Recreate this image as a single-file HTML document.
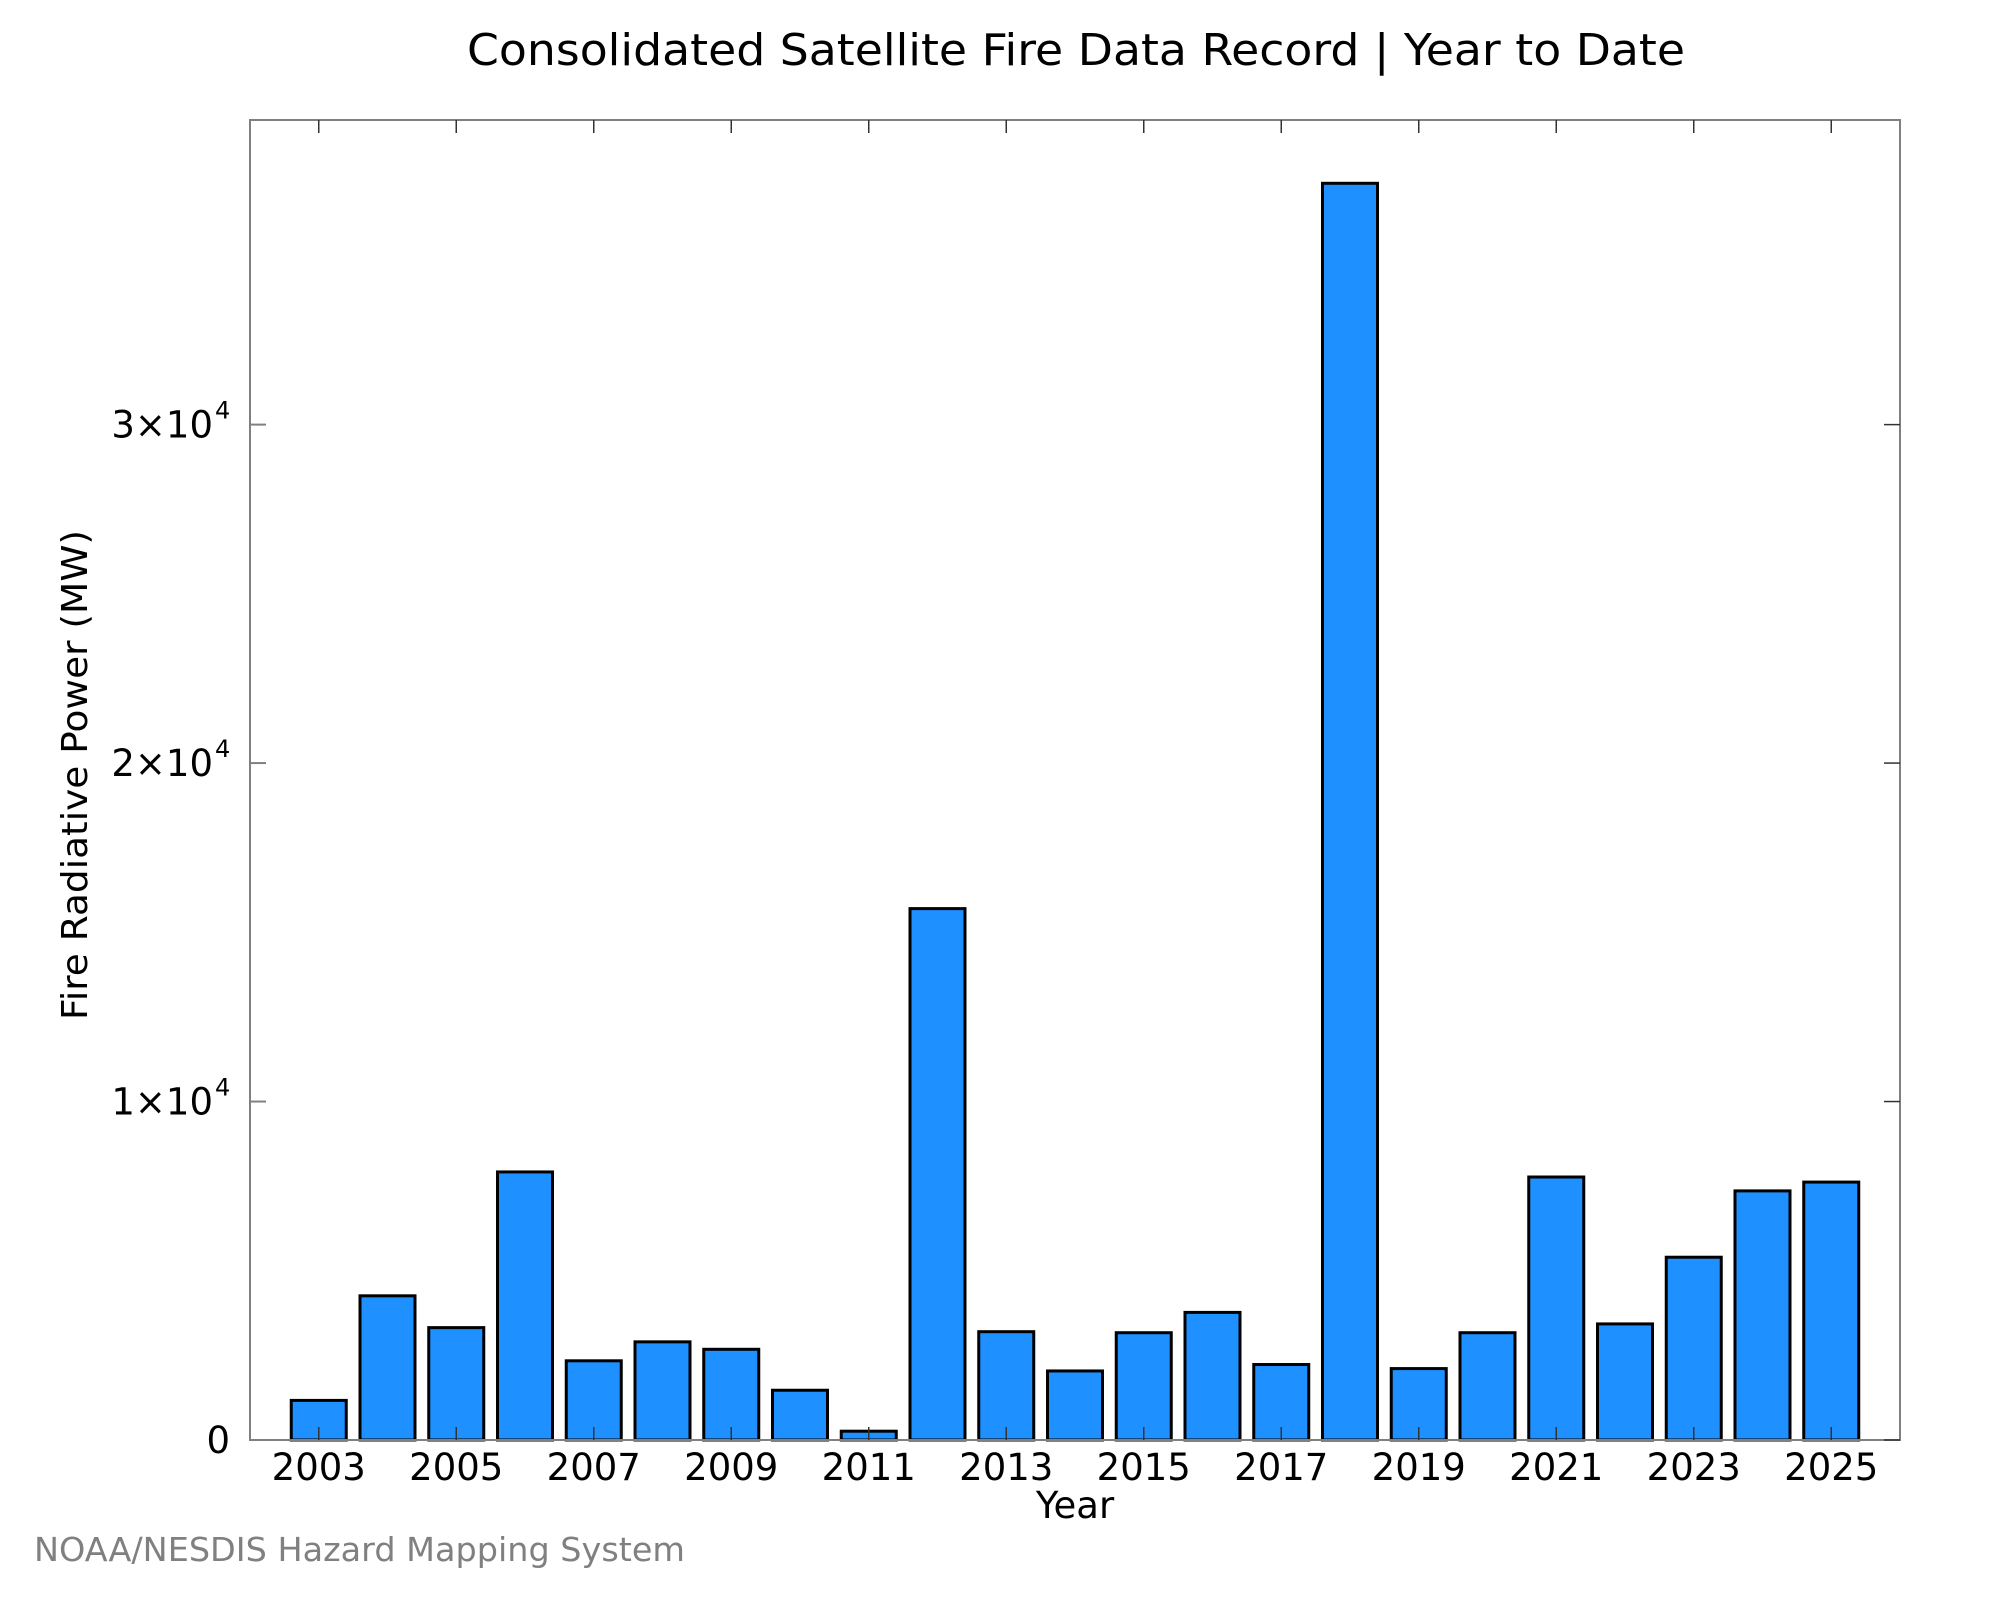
<!DOCTYPE html>
<html><head><meta charset="utf-8"><style>
html,body{margin:0;padding:0;background:#fff;}
svg{display:block;font-family:"DejaVu Sans","Liberation Sans",sans-serif;}
</style></head><body>
<svg id="chart" width="2000" height="1600" viewBox="0 0 2000 1600" xmlns="http://www.w3.org/2000/svg">
<rect width="2000" height="1600" fill="#fff"/>
<text x="1076" y="65" font-size="44" text-anchor="middle" textLength="1218" lengthAdjust="spacingAndGlyphs">Consolidated Satellite Fire Data Record | Year to Date</text>
<g id="bars"></g>
<g id="axes"></g>
<text x="1075" y="1518" font-size="37" text-anchor="middle">Year</text>
<text transform="translate(87,775) rotate(-90)" font-size="36" text-anchor="middle" textLength="490" lengthAdjust="spacingAndGlyphs">Fire Radiative Power (MW)</text>
<text x="34" y="1561" font-size="33" fill="#808080" textLength="651" lengthAdjust="spacingAndGlyphs">NOAA/NESDIS Hazard Mapping System</text>
</svg>
<script>
const years = [2003,2004,2005,2006,2007,2008,2009,2010,2011,2012,2013,2014,2015,2016,2017,2018,2019,2020,2021,2022,2023,2024,2025];
const frp = [1170,4260,3320,7920,2340,2900,2680,1470,260,15700,3200,2040,3170,3770,2230,37130,2110,3170,7770,3430,5400,7360,7620];
const yTicks = [0,10000,20000,30000];
const yTickLabels = ["0","1×10^4","2×10^4","3×10^4"];
const xTicks = [2003,2005,2007,2009,2011,2013,2015,2017,2019,2021,2023,2025];

const L=250,R=1900,T=120,B=1440;
const xMin=2002,xMax=2026,yMin=0,yMax=39000;
function xs(v){return L+(v-xMin)/(xMax-xMin)*(R-L);}
function ys(v){return B-(v-yMin)/(yMax-yMin)*(B-T);}
const NS="http://www.w3.org/2000/svg";
function mk(tag,attrs,parent){const e=document.createElementNS(NS,tag);for(const k in attrs)e.setAttribute(k,attrs[k]);parent.appendChild(e);return e;}
const bars=document.getElementById('bars'),axes=document.getElementById('axes');
const bw=0.8*(xs(1)-xs(0));
years.forEach((y,i)=>{
  const top=ys(frp[i]);
  const r=mk('rect',{x:xs(y)-bw/2,y:top,width:bw,height:B-top,fill:'#1E90FF',stroke:'#000','stroke-width':3},bars);
  
  
});
const frame=mk('rect',{x:L,y:T,width:R-L,height:B-T,fill:'none',stroke:'#808080','stroke-width':2},axes);


xTicks.forEach(t=>{
  const x=xs(t);
  const a=mk('line',{x1:x,y1:B,x2:x,y2:B-13,stroke:'#333','stroke-width':1.5},axes);
  
  
  mk('line',{x1:x,y1:T,x2:x,y2:T+13,stroke:'#333','stroke-width':1.5},axes);
  const lb=mk('text',{x:x,y:1480,'font-size':37,'text-anchor':'middle'},axes);
  lb.textContent=String(t);
  
  
});
yTicks.forEach((t,i)=>{
  const y=ys(t);
  mk('line',{x1:L,y1:y,x2:L+16,y2:y,stroke:'#808080','stroke-width':2},axes);
  const rt=mk('line',{x1:R,y1:y,x2:R-16,y2:y,stroke:'#333','stroke-width':1.5},axes);
  
  
  const lab=yTickLabels[i];
  const tx=mk('text',{x:i===0?230:213,y:y+13,'font-size':37,'text-anchor':'end'},axes);
  
  
  if(lab.indexOf('^')>=0){
    const p=lab.split('^');
    tx.textContent=p[0];
    const sup=mk('text',{x:215,y:y-6,'font-size':24,'text-anchor':'start'},axes);
    sup.textContent=p[1];
    
    
  } else tx.textContent=lab;
});
</script>
</body></html>
